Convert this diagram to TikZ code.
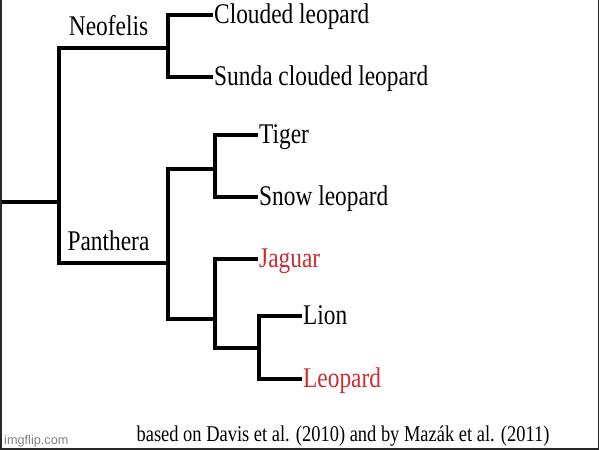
\documentclass[tikz,border=0pt]{standalone}
\usepackage{fontspec}
\setmainfont{Liberation Serif}[FakeStretch=0.82]
\newfontfamily\markfont{Liberation Sans}
\usetikzlibrary{positioning}

\begin{document}
\begin{tikzpicture}[
    x=1pt, y=-1pt,
    every node/.style={
        font=\fontsize{28.5}{30}\selectfont
    },
    branch/.style={line width=3.5pt},
    leaf/.style={
        anchor=west,
        inner sep=0pt,
        inner xsep=1pt,
        text height=16pt,
        text depth=0pt
    },
    clade/.style={above=10.5pt, xshift=-5pt, inner sep=0pt, text depth=0pt},
    redname/.style={text=namered}
]

%--- Color Definitions ---%
\definecolor{namered}{RGB}{205,45,50}
\definecolor{framegray}{RGB}{40,40,40}
\definecolor{markgray}{RGB}{130,130,130}

\useasboundingbox (0,0) rectangle (600,450);

%-----------------------------------------------
% INTERNAL POINTS
%-----------------------------------------------
\coordinate (base)       at (0,202);
\coordinate (root)       at (59,202);
\coordinate (neofelis)   at (168,48);
\coordinate (panthera)   at (168,263);
\coordinate (tigerclade) at (215,169);
\coordinate (jagclade)   at (215,319);
\coordinate (lionclade)  at (259,348);

%-----------------------------------------------
% LEAVES
%-----------------------------------------------
\node[leaf] (clouded) at (213,15)  {Clouded leopard};
\node[leaf] (sunda)   at (213,77)  {Sunda clouded leopard};
\node[leaf] (tiger)   at (258,135) {Tiger};
\node[leaf] (snow)    at (258,197) {Snow leopard};
\node[leaf, redname] (jaguar)  at (258,259) {Jaguar};
\node[leaf]          (lion)    at (302,316) {Lion};
\node[leaf, redname] (leopard) at (302,379) {Leopard};

%-----------------------------------------------
% BRANCHES
%-----------------------------------------------
\draw[branch] (base) -- (root);
\draw[branch] (root) |- node[clade, pos=0.75] {Neofelis} (neofelis);
\draw[branch] (root) |- node[clade, pos=0.75] {Panthera} (panthera);

\draw[branch] (neofelis) |- (clouded.west);
\draw[branch] (neofelis) |- (sunda.west);

\draw[branch] (panthera) |- (tigerclade);
\draw[branch] (panthera) |- (jagclade);
\draw[branch] (tigerclade) |- (tiger.west);
\draw[branch] (tigerclade) |- (snow.west);
\draw[branch] (jagclade) |- (jaguar.west);
\draw[branch] (jagclade) |- (lionclade);
\draw[branch] (lionclade) |- (lion.west);
\draw[branch] (lionclade) |- (leopard.west);

%-----------------------------------------------
% SOURCE AND FRAME
%-----------------------------------------------
\node[font=\fontsize{22.5}{24}\selectfont, anchor=base]
    (source) at (343,441) {based on Davis et al. (2010) and by Mazák et al. (2011)};

\node[font=\markfont\fontsize{12.7}{14}\selectfont, text=markgray,
      anchor=base west, inner sep=0pt]
    (watermark) at (4,444) {imgflip.com};

\draw[line width=1.5pt, framegray]
    (0.75,0) -- (0.75,448.75) -- (598.5,448.75) -- (598.5,0);

\end{tikzpicture}
\end{document}
